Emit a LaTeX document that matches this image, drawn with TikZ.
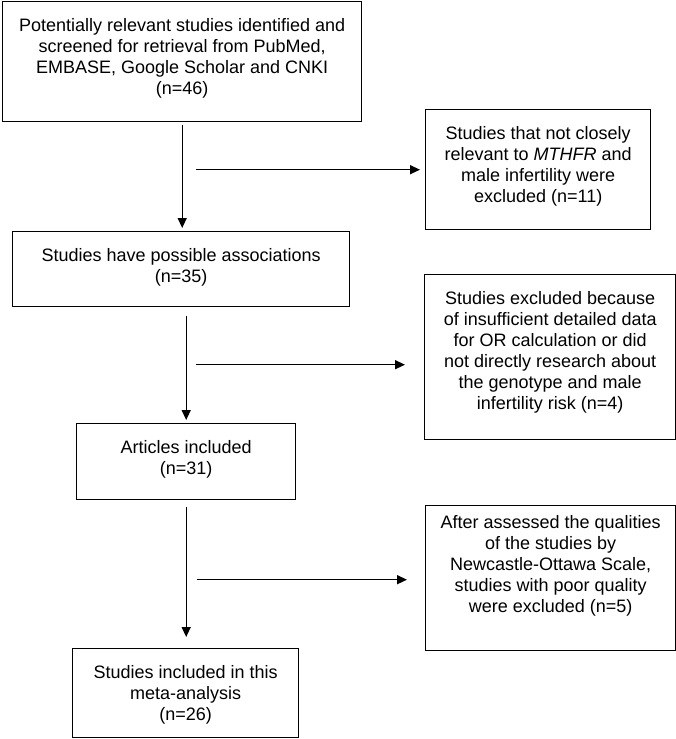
\documentclass[tikz,border=0pt]{standalone}
\usepackage{fontspec}
\setmainfont{Liberation Sans}
\usetikzlibrary{positioning,arrows.meta}
\newcommand*{\flowbox}[7][17pt]{%
\node[flow, minimum width = #6pt, minimum height = #7pt, anchor = north west] (#2) at (#4,#5) {};
\node[boxtext, below = #1 of #2.north] (#2-label) {#3};
}

\begin{document}
\begin{tikzpicture}[x = 1pt, y = -1pt]
		\tikzset{
			basefont/.style = {font = \fontsize{18pt}{21pt}\selectfont},
			flow/.style = {draw, line width = 1.4pt, inner sep = 0pt},
			boxtext/.style = {basefont, align = center, inner sep = 0pt},
			arr/.style = {line width = 1.4pt, -{Triangle[length = 10pt, width = 9pt]}},
		};
		\useasboundingbox (0,0) rectangle (676,739);

		\flowbox{src}{Potentially relevant studies identified and\\screened for retrieval from PubMed,\\EMBASE, Google Scholar and CNKI\\(n=46)}{2}{1}{359}{120}
		\flowbox{ex1}{Studies that not closely\\relevant to \textit{MTHFR} and\\male infertility were\\excluded (n=11)}{425}{109}{225}{120}
		\flowbox{poss}{Studies have possible associations\\(n=35)}{12}{231}{337}{75}
		\flowbox{ex2}{Studies excluded because\\of insufficient detailed data\\for OR calculation or did\\not directly research about\\the genotype and male\\infertility risk (n=4)}{424}{274}{251}{165}
		\flowbox{art}{Articles included\\(n=31)}{76}{423}{219}{76}
		\flowbox[10.5pt]{ex3}{After assessed the qualities\\of the studies by\\Newcastle-Ottawa Scale,\\studies with poor quality\\were excluded (n=5)}{425}{505}{250}{145}
		\flowbox{fin}{Studies included in this\\meta-analysis\\(n=26)}{72}{648}{226}{89}

		\draw[arr, shorten <= 3pt, shorten >= 3pt] (src.south) -- (src.south |- poss.north);
		\draw[arr, shorten <= 14pt, shorten >= 5pt] (src.south |- ex1.west) -- (ex1.west);
		\draw[arr, shorten <= 9pt, shorten >= 3pt] (poss.south -| art.north) -- (art.north);
		\draw[arr, shorten <= 10pt, shorten >= 19pt] ([yshift = -7.5pt]ex2.west -| art.north) -- ([yshift = -7.5pt]ex2.west);
		\draw[arr, shorten <= 7pt, shorten >= 11pt] (art.south) -- (art.south |- fin.north);
		\draw[arr, shorten <= 11.5pt, shorten >= 18pt] ([yshift = -1.5pt]ex3.west -| fin.north) -- ([yshift = -1.5pt]ex3.west);
	\end{tikzpicture}
\end{document}
